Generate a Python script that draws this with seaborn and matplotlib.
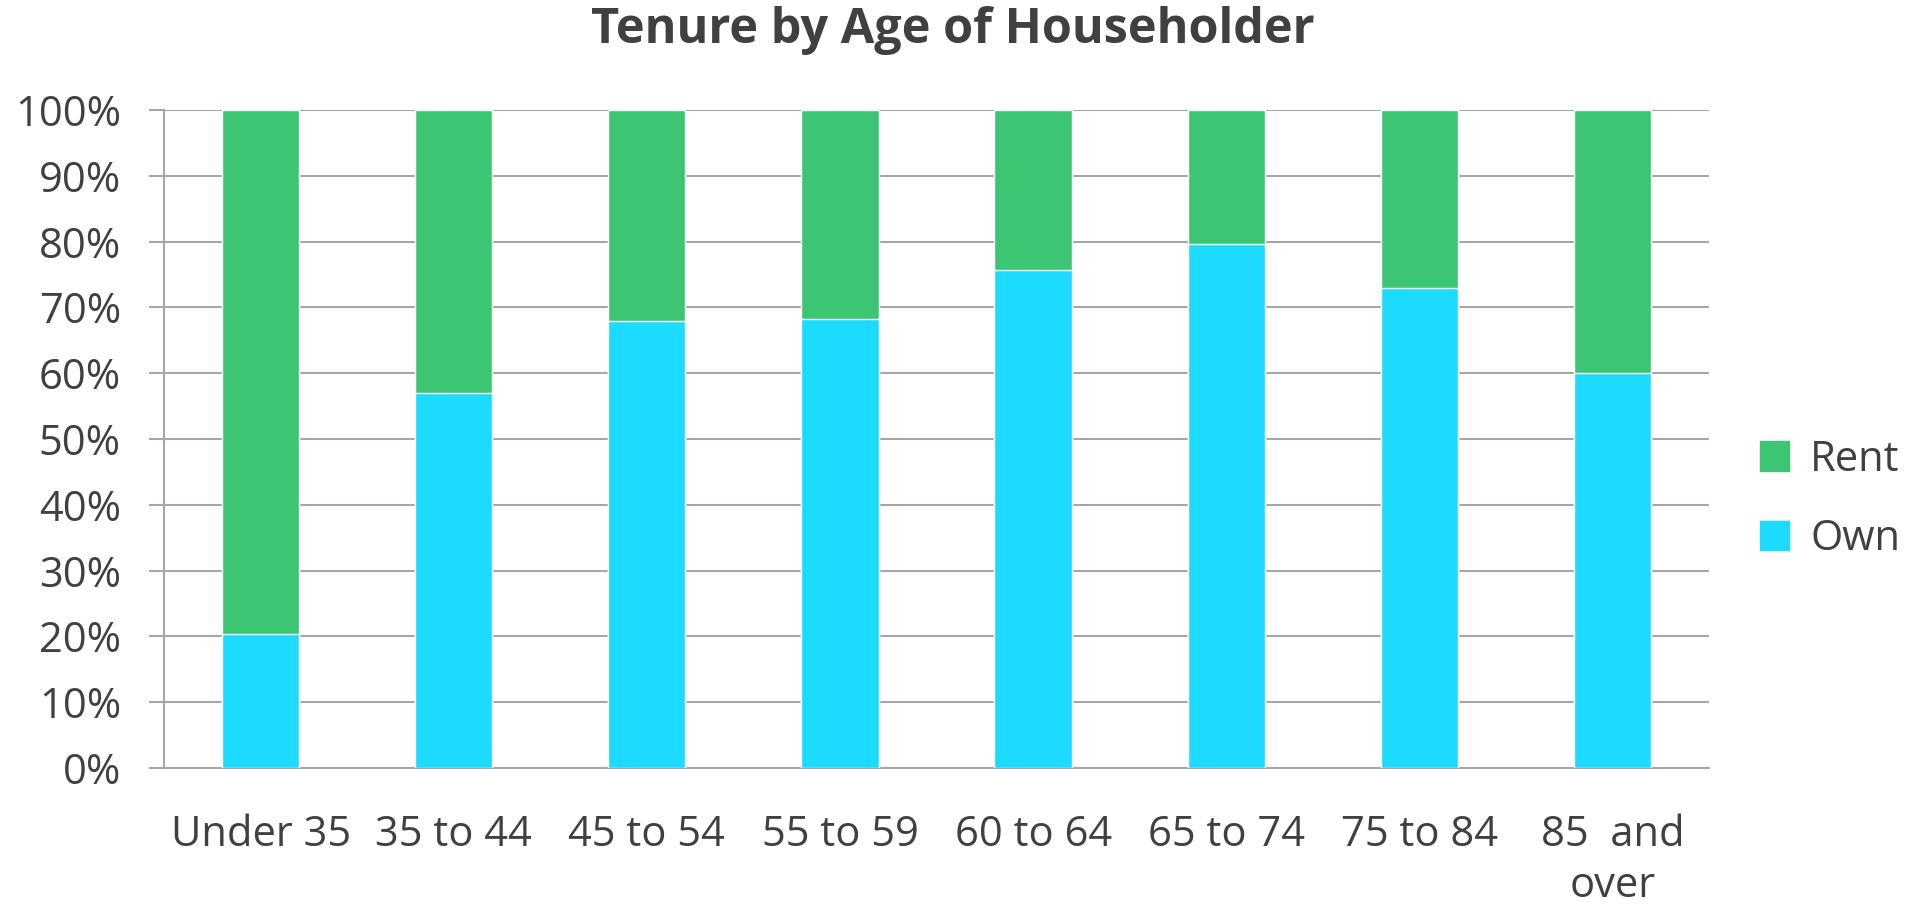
import pandas as pd
import seaborn as sns
import matplotlib.pyplot as plt
from matplotlib.patches import Patch
from matplotlib.ticker import PercentFormatter

ages = ["Under 35", "35 to 44", "45 to 54", "55 to 59", "60 to 64",
        "65 to 74", "75 to 84", "85  and\nover"]
own = [20.4, 57.0, 67.9, 68.2, 75.7, 79.7, 73.0, 60.0]
rent = [100 - v for v in own]

df = pd.DataFrame({"Age": ages, "Own": own, "Rent": rent})
df["Total"] = df["Own"] + df["Rent"]

green = "#3CC573"
cyan = "#1CDBFE"
grey = "#404040"
grid = "#A6A6A6"

sns.set_style("white")
plt.rcParams["font.family"] = ["Open Sans", "DejaVu Sans"]

fig = plt.figure(figsize=(19.14, 9.07), dpi=100)
ax = fig.add_axes([0.0857, 0.1533, 0.8072, 0.7254])

sns.barplot(data=df, x="Age", y="Total", color=green, width=0.4,
            saturation=1, ax=ax, zorder=2)
sns.barplot(data=df, x="Age", y="Own", color=cyan, width=0.4,
            saturation=1, ax=ax, zorder=3)

ax.set_xlim(-0.5, len(ages) - 0.5)
ax.set_ylim(0, 100)
ax.set_yticks(range(0, 101, 10))
ax.yaxis.set_major_formatter(PercentFormatter(decimals=0))
ax.yaxis.grid(True, color=grid, linewidth=1.5, zorder=0)
ax.set_axisbelow(True)

ax.set_xticks([i - 0.5 for i in range(len(ages) + 1)], minor=True)
ax.tick_params(axis="x", which="major", length=0, pad=33, labelsize=30, labelcolor=grey)
ax.tick_params(axis="x", which="minor", length=11, width=1.5, color=grid)
ax.tick_params(axis="y", length=11, width=1.5, color=grid, labelsize=30,
               labelcolor=grey, pad=20, left=True)
for lab in ax.get_xticklabels():
    lab.set_linespacing(1.3)

for s in ["top", "right"]:
    ax.spines[s].set_visible(False)
for s in ["left", "bottom"]:
    ax.spines[s].set_color(grid)
    ax.spines[s].set_linewidth(1.5)

ax.set_xlabel("")
ax.set_ylabel("")

fig.text(0.4978, 0.966, "Tenure by Age of Householder", ha="center", va="center",
         fontsize=35, fontweight="bold", color=grey)

handles = [Patch(color=green, label="Rent"), Patch(color=cyan, label="Own")]
fig.legend(handles=handles, loc="center left", bbox_to_anchor=(0.9, 0.4495),
           frameon=False, fontsize=30, labelcolor=grey, handlelength=0.7,
           handleheight=0.7, handletextpad=0.5, labelspacing=0.9)

fig.savefig("out.png", dpi=100)
